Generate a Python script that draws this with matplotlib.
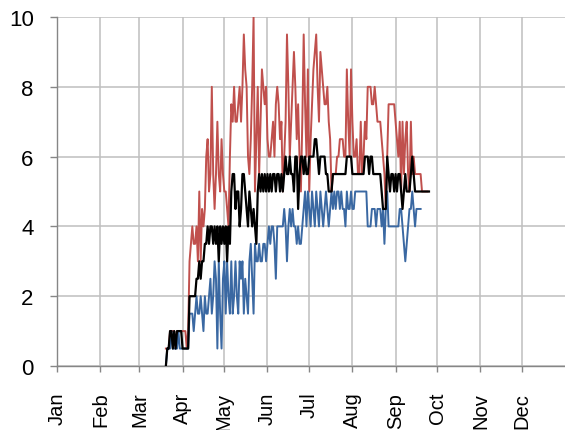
import matplotlib
matplotlib.use("Agg")
import matplotlib.pyplot as plt
import pandas as pd

plt.rcParams['font.family'] = ['Liberation Sans', 'DejaVu Sans']

# daily readings starting 20 March
start_date = '2013-03-20'

daily_max = [
    0.5, 0.5, 0.5, 1, 1, 1, 1, 0.5, 1, 1, 1, 1, 1, 1, 1, 0.5, 1,
    3, 3.5, 4, 3.5, 3.5, 4, 3, 5, 3, 4.5, 4, 4.5, 6, 6.5,
    5, 5.5, 8, 5.5, 4.5, 5.5, 7, 5.5, 5, 6.5, 5.5, 5, 5, 4.5, 4, 6,
    7.5, 7, 8, 7, 7, 7.5, 8, 7, 8, 9.5, 8.5, 8, 6, 5.5, 6.5, 8, 10,
    5, 6.5, 8, 5.5, 7, 8.5, 8, 7.5, 8, 6.5, 6, 6, 6.5, 7, 6, 7.5,
    8, 7.5, 6.5, 7, 5, 6, 7, 9.5, 8, 6, 7, 8, 9, 8, 6.5, 7.5,
    6, 5, 7, 9.5, 7.5, 6, 8.5, 5, 6.5, 7.5, 8.5, 9, 9.5, 8, 7, 9,
    8.5, 8, 7.5, 7.5, 8, 7, 6.5, 5, 5.5, 5.5, 5.5, 6, 6, 6.5,
    6.5, 6.5, 6, 6, 8.5, 7, 6, 8.5, 7, 6, 6, 6.5, 5.5, 5.5, 7, 5.5,
    6, 7, 6.5, 8, 8, 8, 7.5, 7.5, 8, 7.5, 7, 7, 7, 6.5, 6, 5.5, 4.5,
    6, 7.5, 7.5, 7.5, 7.5, 7.5, 7, 6.5, 6, 7, 5, 7, 5.5, 6.5, 7, 5.5,
    5, 7, 5.5, 6, 5.5, 5.5, 5.5, 5.5, 5.5, 5, 5, 5, 5, 5,
]

daily_median = [
    0, 0.5, 0.5, 1, 1, 0.5, 1, 0.5, 1, 1, 1, 1, 0.5, 0.5, 0.5, 0.5, 0.5,
    2, 2, 2, 2, 2, 2.5, 2.5, 3, 2.5, 3, 3, 3.5, 3.5, 4,
    3.5, 4, 4, 3.5, 4, 3.5, 4, 3, 4, 3.5, 4, 3.5, 4, 3, 4, 3.5,
    5, 5.5, 5.5, 4.5, 5, 5, 4, 4.5, 5.5, 5.5, 5, 4.5, 4, 5, 4.5, 4, 4.5,
    4, 3.5, 5, 5.5, 5, 5.5, 5, 5.5, 5, 5.5, 5, 5.5, 5, 5.5, 5.5, 5,
    5.5, 5.5, 5, 5.5, 5, 5.5, 6, 5.5, 5.5, 6, 5.5, 5.5, 5, 6, 6, 4.5,
    5.5, 6, 6, 5.5, 6, 5.5, 5.5, 6, 6, 6, 6, 6.5, 6.5, 6, 5.5, 6,
    6, 6, 6, 5.5, 5.5, 5, 5, 5, 5.5, 5.5, 5.5, 5.5, 5.5, 5.5,
    5.5, 5.5, 5.5, 5.5, 6, 6, 6, 6, 5.5, 5.5, 5.5, 5.5, 5.5, 5.5, 5.5, 5.5,
    5.5, 6, 6, 6, 5.5, 6, 6, 5.5, 5.5, 5.5, 5.5, 5.5, 5.5, 5, 4.5, 4.5,
    4.5, 6, 5.5, 5, 5.5, 5.5, 5, 5.5, 5, 5.5, 5.5, 5, 4.5, 5, 5.5, 5,
    5, 5, 5.5, 6, 5.5, 5, 5, 5, 5, 5, 5, 5, 5, 5, 5, 5,
]

daily_min = [
    0, 0.5, 0.5, 0.5, 1, 0.5, 0.5, 0.5, 0.5, 1, 0.5, 0.5, 0.5, 0.5, 0.5, 0.5, 0.5,
    1.5, 1.5, 1.5, 1, 1.5, 2, 1.5, 1.5, 2, 1.5, 1, 2, 1.5, 1.5,
    2, 2.5, 1.5, 2, 3, 2.5, 0.5, 3, 1.5, 0.5, 2.5, 3, 1.5, 3, 2, 1.5,
    3, 1.5, 2, 3, 2, 1.5, 3, 2.5, 3, 1.5, 2.5, 2, 1.5, 3, 3.5, 2.5, 1.5,
    3.5, 3, 3, 3.5, 3, 3, 3.5, 3.5, 3, 3.5, 4, 3.5, 4, 4, 3.5, 2.5,
    4, 4, 4, 4, 4, 4.5, 4, 3, 4, 4.5, 4, 4.5, 4, 4, 3.5, 4,
    3.5, 3.5, 4, 4.5, 5, 4, 5, 4.5, 4, 5, 4.5, 4, 5, 4.5, 4, 5,
    4.5, 4, 4.5, 5, 4.5, 4, 4.5, 5, 4.5, 5, 4.5, 5, 5, 4.5,
    5, 4.5, 4.5, 4, 5, 4.5, 4.5, 5, 4.5, 4.5, 5, 5, 5, 5, 5, 5,
    5, 5, 5, 4, 4, 4, 4.5, 4.5, 4.5, 4, 4.5, 4.5, 4.5, 4, 4.5, 3.5,
    4.5, 5, 4, 4, 4, 4, 4, 4, 4, 4, 4.5, 4.5, 4, 3.5, 3, 3.5,
    4, 4.5, 4.5, 5, 4.5, 4, 4.5, 4.5, 4.5, 4.5,
]

month_labels = ['Jan', 'Feb', 'Mar', 'Apr', 'May', 'Jun',
                'Jul', 'Aug', 'Sep', 'Oct', 'Nov', 'Dec']

grid_col = '#bfbfbf'
axis_col = '#868686'

fig = plt.figure(figsize=(5.65, 4.31), dpi=100)
ax = fig.add_axes([0.1014, 0.1485, 0.8993, 0.8097])

def dates_for(values):
    return pd.date_range(start_date, periods=len(values), freq='D')

ax.plot(dates_for(daily_max), daily_max, color='#c0504d', lw=1.4, zorder=3)
ax.plot(dates_for(daily_min), daily_min, color='#3a68a2', lw=1.4, zorder=4)
ax.plot(dates_for(daily_median), daily_median, color='black', lw=1.6, zorder=5)

ax.set_xlim(pd.Timestamp('2013-01-01'), pd.Timestamp('2014-01-01'))
ax.set_ylim(0, 10)
ax.set_yticks(range(0, 11, 2))

month_starts = pd.date_range('2013-01-01', periods=12, freq='MS')
ax.set_xticks(month_starts)
ax.set_xticklabels(month_labels, rotation=90, ha='center', va='top')

ax.grid(True, color=grid_col, lw=1.1)
ax.set_axisbelow(True)

for side in ['top', 'right']:
    ax.spines[side].set_visible(False)
for side in ['left', 'bottom']:
    ax.spines[side].set_color(axis_col)
    ax.spines[side].set_linewidth(1.0)
    ax.spines[side].set_zorder(2)

ax.tick_params(axis='y', length=5, width=1, color=axis_col, pad=12,
               labelsize=16, labelcolor='black')
ax.tick_params(axis='x', length=4, width=1, color=axis_col, pad=14.5,
               labelsize=14.5, labelcolor='black')

fig.savefig('out.png', dpi=100)
